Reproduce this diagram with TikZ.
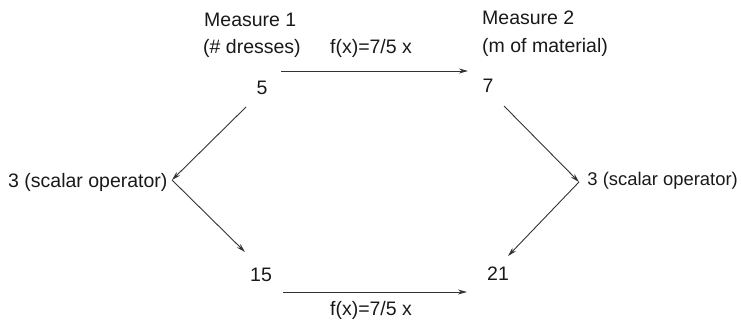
\documentclass[tikz,border=0pt]{standalone}
\usepackage{fontspec}
\setmainfont{Liberation Sans}
\usetikzlibrary{arrows.meta}
\begin{document}
\begin{tikzpicture}[x=1pt,y=-1pt,
  lbl/.style={inner sep=0pt,font=\fontsize{19.5}{23}\selectfont,text=black!90},
  arr/.style={draw=black!80,line width=0.9pt,-{Stealth[length=9pt,width=5pt]}}]
\useasboundingbox (0,0) rectangle (741,320);
% texts
\node[lbl,anchor=west] (m1) at (204,20) {Measure 1};
\node[lbl,anchor=west] (d1) at (203,48) {(\# dresses)};
\node[lbl,anchor=west] (m2) at (482,18) {Measure 2};
\node[lbl,anchor=west] (d2) at (482,47) {(m of material)};
\node[lbl] (n5) at (262,88) {5};
\node[lbl] (n7) at (488,86) {7};
\node[lbl] (n15) at (261,275) {15};
\node[lbl] (n21) at (498,274) {21};
\node[lbl,anchor=west] (s1) at (8,182) {3 (scalar operator)};
\node[lbl,anchor=east,font=\fontsize{18.4}{23}\selectfont] (s2) at (738,181) {3 (scalar operator)};
\node[lbl] (f1) at (371,48) {f(x)=7/5 x};
\node[lbl] (f2) at (371,310) {f(x)=7/5 x};
% connector points
\coordinate (t1) at (281,71);
\coordinate (t2) at (468,71);
\coordinate (b1) at (283,292);
\coordinate (b2) at (467,292);
\coordinate (l0) at (246,107);
\coordinate (lv) at (172,180);
\coordinate (l1) at (245,252);
\coordinate (r0) at (504,106);
\coordinate (rv) at (579,182);
\coordinate (r1) at (508,256);
% arrows
\draw[arr] (t1) -- (t2);
\draw[arr] (b1) -- (b2);
\draw[arr] (l0) -- (lv);
\draw[arr] (lv) -- (l1);
\draw[arr] (r0) -- (rv);
\draw[arr] (rv) -- (r1);
\end{tikzpicture}
\end{document}
